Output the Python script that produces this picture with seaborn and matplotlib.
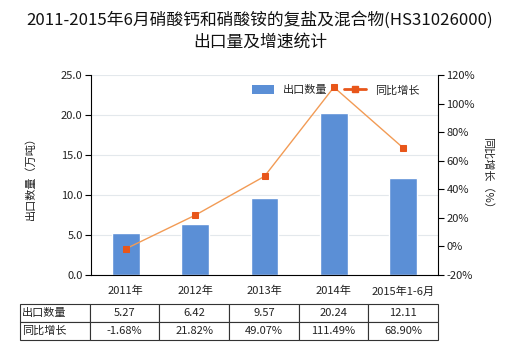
import numpy as np
import pandas as pd
import matplotlib
matplotlib.use("Agg")
import matplotlib.pyplot as plt
import seaborn as sns
from matplotlib.lines import Line2D
from matplotlib.patches import Patch

categories = ["2011年", "2012年", "2013年", "2014年", "2015年1-6月"]
export_qty = [5.27, 6.42, 9.57, 20.24, 12.11]
growth = [-1.68, 21.82, 49.07, 111.49, 68.90]
qty_labels = ["5.27", "6.42", "9.57", "20.24", "12.11"]
growth_labels = ["-1.68%", "21.82%", "49.07%", "111.49%", "68.90%"]
row_labels = ["出口数量", "同比增长"]

sns.set_theme(style="white")
plt.rcParams['font.family'] = ['Noto Sans CJK SC', 'DejaVu Sans']

BAR = "#5B8FD6"
MK = "#E8561A"

fig = plt.figure(figsize=(5.2, 3.5), dpi=100)
ax = fig.add_axes([91/520, 75/350, 347/520, 200/350])

df = pd.DataFrame({"cat": categories, "qty": export_qty})
sns.barplot(data=df, x="cat", y="qty", ax=ax, color=BAR, saturation=1, width=0.4)
ax.set_ylim(0, 25)
ax.set_yticks(np.arange(0, 25.1, 5))
ax.set_yticklabels([f"{v:.1f}" for v in np.arange(0, 25.1, 5)])
ax.set_xlim(-0.5, 4.5)
ax.yaxis.grid(True, color="#E3E8EC", linewidth=0.8)
ax.set_axisbelow(True)
ax.set_xlabel("")
ax.set_ylabel("出口数量（万吨）", fontsize=8, color="#222222", labelpad=18)
ax.tick_params(axis="y", length=4, width=0.8, color="black", labelsize=8, left=True, pad=2, labelcolor="#222222")
ax.tick_params(axis="x", length=0, labelsize=8, pad=8, labelcolor="#222222")
for s in ["top", "right"]:
    ax.spines[s].set_visible(False)
for s in ["left", "bottom"]:
    ax.spines[s].set_color("black")
    ax.spines[s].set_linewidth(0.8)

ax2 = ax.twinx()
sns.lineplot(x=np.arange(len(growth)), y=growth, ax=ax2, color="#F29B55", linewidth=1.0,
             marker="s", markersize=5, markerfacecolor=MK, markeredgecolor=MK, legend=False)
ax2.set_ylim(-20, 120)
ax2.set_yticks(np.arange(-20, 121, 20))
ax2.set_yticklabels([f"{v}%" for v in range(-20, 121, 20)])
ax2.set_ylabel("同比增长（%）", fontsize=8, rotation=270, color="#222222", labelpad=13)
ax2.tick_params(axis="y", length=4, width=0.8, color="black", labelsize=8, right=True, pad=2, labelcolor="#222222")
for s in ["top", "left", "bottom"]:
    ax2.spines[s].set_visible(False)
ax2.spines["right"].set_color("black")
ax2.spines["right"].set_linewidth(0.8)
ax2.grid(False)

handles = [Patch(facecolor=BAR, edgecolor="none"),
           Line2D([0], [0], color=MK, linewidth=2, marker="s", markersize=4)]
ax2.legend(handles, row_labels, loc="upper center", bbox_to_anchor=(0.705, 1.0), ncol=2,
           frameon=False, fontsize=8, handlelength=2.0, handleheight=0.8, columnspacing=1.5)

fig.text(0.5, 1 - 20/350, "2011-2015年6月硝酸钙和硝酸铵的复盐及混合物(HS31026000)",
         ha="center", va="center", fontsize=12.1, color="#111111")
fig.text(0.5, 1 - 42/350, "出口量及增速统计", ha="center", va="center", fontsize=12.1, color="#111111")

cell_text = [[row_labels[0]] + qty_labels, [row_labels[1]] + growth_labels]
tbl = ax.table(cellText=cell_text, cellLoc="center",
               bbox=[(20-91)/347, (275-340)/200, (438-20)/347, 36/200])
tbl.auto_set_font_size(False)
tbl.set_fontsize(8)
for (r, c), cell in tbl.get_celld().items():
    cell.set_edgecolor("#333333")
    cell.set_linewidth(0.8)
    cell.get_text().set_color("#222222")
    if c == 0:
        cell._loc = "left"
        cell.get_text().set_ha("left")
        cell.PAD = 0.03

fig.savefig("out.png", dpi=100)
